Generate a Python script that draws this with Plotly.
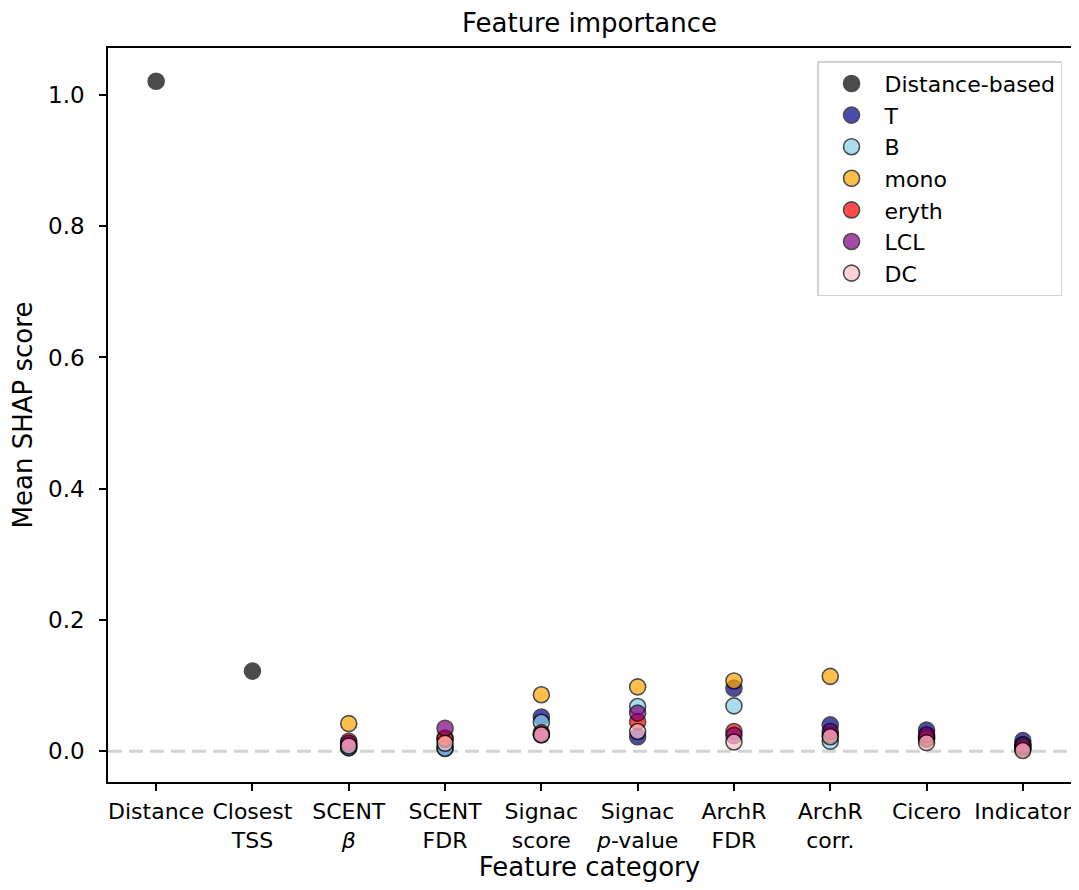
import plotly.graph_objects as go

categories = ["Distance", "Closest<br>TSS", "SCENT<br><i>β</i>", "SCENT<br>FDR",
              "Signac<br>score", "Signac<br><i>p</i>-value", "ArchR<br>FDR",
              "ArchR<br>corr.", "Cicero", "Indicator"]

dist_cats = categories[:2]
dist_vals = [1.021, 0.122]

cell_cats = categories[2:]
cell_types = ["T", "B", "mono", "eryth", "LCL", "DC"]
T_vals     = [0.006, 0.005, 0.052, 0.022, 0.096, 0.040, 0.032, 0.016]
B_vals     = [0.005, 0.004, 0.044, 0.068, 0.069, 0.015, 0.022, 0.010]
mono_vals  = [0.042, 0.018, 0.086, 0.098, 0.107, 0.114, 0.018, 0.006]
eryth_vals = [0.015, 0.020, 0.028, 0.045, 0.030, 0.025, 0.020, 0.004]
LCL_vals   = [0.012, 0.035, 0.025, 0.058, 0.024, 0.030, 0.025, 0.008]
DC_vals    = [0.008, 0.012, 0.025, 0.030, 0.014, 0.022, 0.013, 0.001]
cell_values = [T_vals, B_vals, mono_vals, eryth_vals, LCL_vals, DC_vals]
cell_colors = ["darkblue", "skyblue", "orange", "red", "purple", "pink"]

FONT = "DejaVu Sans"

fig = go.Figure()
fig.add_trace(go.Scatter(
    x=dist_cats, y=dist_vals, mode="markers", name="Distance-based",
    marker=dict(size=16, color="black", opacity=0.7,
                line=dict(color="black", width=1.6)),
))
for name, vals, col in zip(cell_types, cell_values, cell_colors):
    fig.add_trace(go.Scatter(
        x=cell_cats, y=vals, mode="markers", name=name,
        marker=dict(size=16, color=col, opacity=0.7,
                    line=dict(color="black", width=1.6)),
    ))

# dashed zero line
fig.add_hline(y=0, line=dict(color="lightgray", width=3, dash="14px,7px"), layer="below")

axis_common = dict(showline=True, mirror=True, linecolor="black", linewidth=1.5,
                   ticks="outside", ticklen=7, tickwidth=1.5, tickcolor="black",
                   showgrid=False, zeroline=False,
                   tickfont=dict(family=FONT, size=22, color="black"))

fig.update_xaxes(type="category", categoryorder="array", categoryarray=categories,
                 range=[-0.5, 9.5], ticklabelstandoff=2, automargin=False,
                 title=dict(text="Feature category", font=dict(family=FONT, size=26, color="black"),
                            standoff=14),
                 **axis_common)
fig.update_yaxes(range=[-0.047, 1.0716], tickvals=[0, 0.2, 0.4, 0.6, 0.8, 1.0],
                 tickformat=".1f", ticklabelstandoff=10, automargin=False,
                 title=dict(text="Mean SHAP score", font=dict(family=FONT, size=26, color="black"),
                            standoff=8),
                 **axis_common)
fig.update_yaxes(tickfont=dict(family=FONT, size=23, color="black"))

# page has an 8px body margin, so size the figure to fit the 1079x890 window
fig.update_layout(
    width=1071, height=874,
    margin=dict(l=100, r=8, t=40, b=100),
    plot_bgcolor="white", paper_bgcolor="white",
    title=dict(text="Feature importance", x=0.5, xref="paper", y=0.983, yanchor="middle",
               font=dict(family=FONT, size=26, color="black")),
    legend=dict(x=0.9907, y=0.982, xanchor="right", yanchor="top",
                bgcolor="white", bordercolor="lightgray", borderwidth=1.5,
                font=dict(family=FONT, size=22, color="black"),
                itemwidth=56),
    showlegend=True,
)

fig.write_html("out.html")
